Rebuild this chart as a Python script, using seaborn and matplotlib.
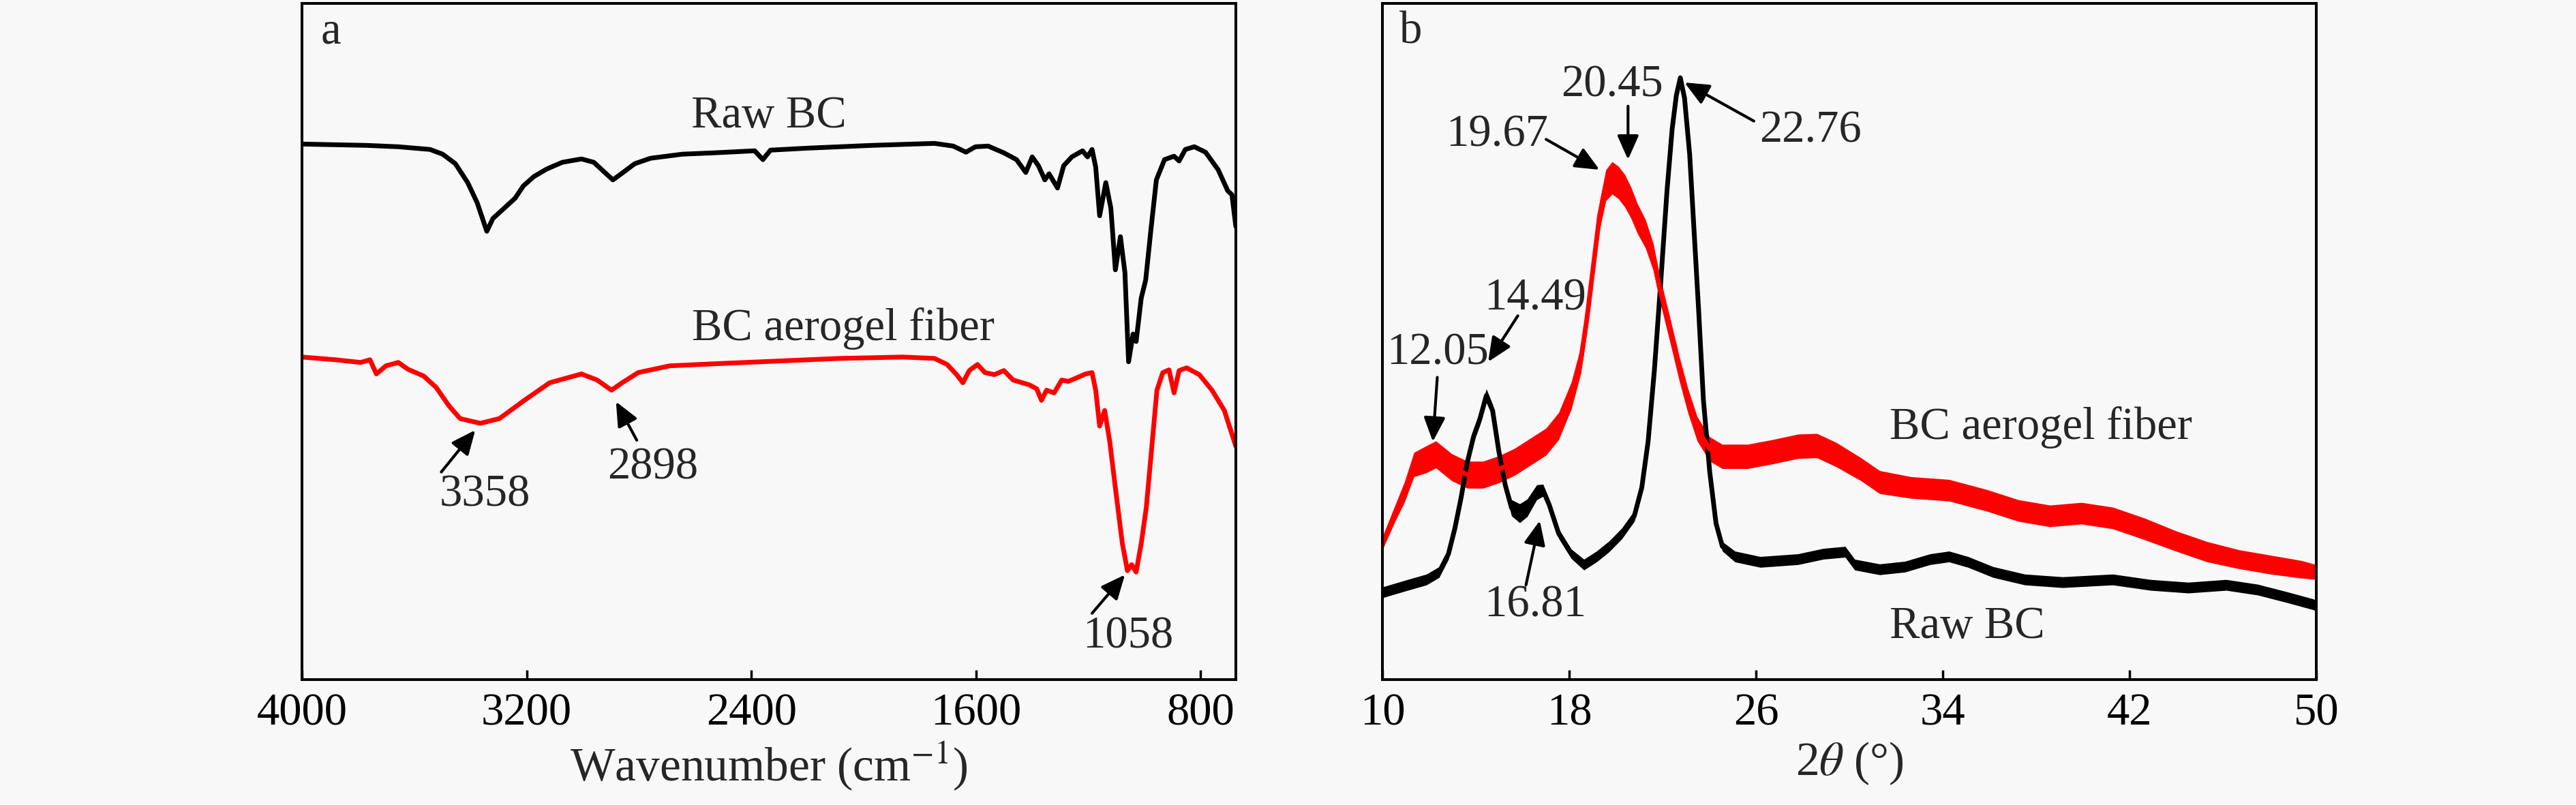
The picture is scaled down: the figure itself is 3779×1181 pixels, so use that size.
import matplotlib
matplotlib.use("Agg")
import matplotlib.pyplot as plt
import seaborn as sns
import pandas as pd
import numpy as np

# ---------------- data ----------------
# Panel a: FTIR
ftir_raw_wn = [4000, 3769, 3657, 3544, 3499, 3454, 3410, 3376, 3342, 3320, 3275, 3241, 3212, 3174,
               3129, 3073, 3005, 2961, 2927, 2893, 2860, 2815, 2759, 2646, 2534, 2388, 2359, 2332,
               2197, 1973, 1748, 1681, 1636, 1602, 1557, 1501, 1456, 1423, 1400, 1378, 1355, 1340,
               1310, 1288, 1259, 1221, 1203, 1187, 1174, 1160, 1138, 1120, 1104, 1086, 1070, 1057,
               1041, 1030, 1012, 996, 978, 958, 929, 895, 877, 855, 823, 783, 738, 704, 689, 675]
ftir_raw_t = [79.2, 79.0, 78.8, 78.4, 77.7, 76.3, 73.5, 70.5, 66.3, 68.2, 69.9, 71.2, 73.0, 74.4,
              75.5, 76.5, 77.0, 76.5, 75.2, 73.9, 74.9, 76.3, 77.1, 77.7, 77.9, 78.2, 76.9, 78.3,
              78.6, 79.0, 79.3, 78.9, 78.0, 78.8, 78.9, 77.9, 76.9, 75.0, 77.3, 76.0, 73.9, 74.8,
              72.7, 76.0, 77.3, 78.2, 77.3, 78.4, 75.8, 68.6, 73.5, 69.7, 60.6, 65.5, 60.2, 47.0,
              51.1, 50.0, 56.4, 59.1, 66.3, 73.9, 76.9, 77.4, 76.7, 78.4, 78.8, 78.0, 75.4, 72.3, 71.7, 67.0]

ftir_aero_wn = [4000, 3881, 3791, 3758, 3735, 3701, 3657, 3623, 3567, 3522, 3477, 3437, 3365, 3297,
                3208, 3118, 3005, 2949, 2898, 2860, 2803, 2691, 2534, 2310, 2085, 1860, 1748, 1703,
                1669, 1647, 1624, 1595, 1568, 1535, 1501, 1468, 1411, 1384, 1367, 1349, 1322, 1295,
                1272, 1243, 1210, 1187, 1174, 1160, 1142, 1124, 1102, 1079, 1061, 1046, 1030, 1012,
                994, 974, 956, 935, 913, 895, 877, 850, 805, 760, 716, 675]
ftir_aero_t = [47.7, 47.3, 46.9, 47.3, 45.2, 46.4, 46.9, 45.9, 44.9, 43.2, 40.5, 38.6, 37.9, 38.6,
               41.3, 43.9, 45.2, 44.3, 42.8, 43.9, 45.4, 46.4, 46.7, 47.1, 47.5, 47.7, 47.5, 46.6,
               45.1, 43.9, 45.7, 46.6, 45.4, 45.1, 45.7, 44.3, 43.6, 43.0, 41.3, 42.8, 42.4, 44.3,
               44.1, 44.6, 45.2, 45.4, 42.8, 37.5, 39.8, 35.2, 27.7, 20.1, 16.1, 17.0, 15.9, 20.1,
               25.4, 34.5, 42.8, 45.4, 45.8, 42.4, 45.7, 46.1, 45.1, 42.8, 39.8, 34.5]

ftir_ticks = [4000, 3200, 2400, 1600, 800]

# Panel b: XRD (center line and half-width of the noisy band)
xrd_aero_2t = [10.0, 10.54, 10.94, 11.35, 11.89, 12.29, 12.97, 13.64, 14.31, 14.99, 15.66, 16.34,
               17.01, 17.55, 18.09, 18.5, 18.76, 19.03, 19.3, 19.57, 19.84, 20.11, 20.38, 20.65,
               20.92, 21.27, 21.6, 21.87, 22.14, 22.41, 22.73, 23.08, 23.48, 24.02, 24.56, 25.64,
               26.72, 27.8, 28.61, 29.42, 30.5, 31.3, 32.65, 34.27, 35.89, 37.24, 38.59, 39.94,
               41.28, 42.63, 43.98, 45.33, 46.68, 48.03, 49.37, 50.0]
xrd_aero_i = [20.1, 24.6, 27.7, 31.8, 32.6, 33.3, 31.4, 30.3, 30.3, 31.1, 32.2, 33.7,
              35.2, 37.5, 42.0, 47.3, 53.4, 61.0, 68.6, 73.1, 74.2, 73.5, 72.3, 70.5,
              68.2, 65.9, 62.5, 58.0, 54.2, 50.4, 45.8, 41.3, 37.1, 34.1, 33.0, 33.0,
              33.7, 34.5, 34.6, 33.3, 31.1, 29.2, 28.4, 28.0, 26.5, 25.0, 24.2, 24.6,
              23.9, 22.3, 20.5, 18.9, 17.8, 17.0, 16.3, 15.9]
xrd_aero_spread = [0.9, 1.2, 1.5, 1.8, 2.0, 2.0, 2.0, 2.0, 2.0, 2.0, 2.0, 2.0,
                   2.0, 2.0, 2.0, 2.0, 2.0, 2.0, 2.1, 2.3, 2.4, 2.4, 2.4, 2.3,
                   2.2, 2.1, 2.0, 1.9, 1.8, 1.8, 1.8, 1.8, 1.8, 1.8, 1.8, 1.8,
                   1.8, 1.8, 1.8, 1.8, 1.7, 1.7, 1.6, 1.6, 1.6, 1.6, 1.6, 1.6,
                   1.6, 1.6, 1.5, 1.5, 1.4, 1.4, 1.3, 1.1]

xrd_raw_2t = [10.0, 11.08, 11.89, 12.43, 12.83, 13.1, 13.37, 13.64, 13.91, 14.18, 14.45, 14.72,
              14.99, 15.26, 15.53, 15.88, 16.2, 16.61, 16.88, 17.15, 17.55, 18.09, 18.63, 19.17,
              19.71, 20.25, 20.79, 21.11, 21.38, 21.65, 21.92, 22.19, 22.41, 22.59, 22.76, 22.94,
              23.16, 23.35, 23.54, 23.75, 24.02, 24.29, 24.56, 25.1, 26.18, 27.8, 28.88, 29.82,
              30.23, 31.3, 32.38, 33.46, 34.27, 35.08, 36.16, 37.51, 39.13, 41.28, 42.9, 44.52,
              46.14, 47.49, 48.84, 50.0]
xrd_raw_i = [12.9, 14.0, 14.8, 15.9, 18.6, 22.3, 26.9, 32.2, 36.0, 38.6, 42.0, 39.8,
             33.7, 28.8, 25.4, 24.6, 25.4, 27.7, 28.0, 25.8, 21.6, 18.6, 17.0, 18.2,
             19.7, 21.6, 24.2, 28.4, 35.2, 45.8, 58.7, 72.3, 81.4, 86.4, 89.0, 86.0,
             77.7, 66.3, 54.9, 41.3, 30.7, 23.1, 19.7, 18.2, 17.4, 17.8, 18.6, 18.9,
             17.0, 16.3, 16.7, 17.8, 18.2, 17.4, 15.9, 14.8, 14.4, 14.8, 14.0, 13.6,
             14.0, 13.3, 12.1, 11.0]
xrd_raw_spread = [0.8, 0.8, 0.8, 0.8, 0.8, 0.8, 0.8, 0.8, 0.8, 0.9, 1.0, 0.9,
                  0.8, 0.8, 1.2, 1.4, 1.3, 1.1, 0.9, 0.8, 0.7, 0.7, 0.8, 0.8,
                  0.8, 0.8, 0.8, 0.7, 0.5, 0.4, 0.3, 0.3, 0.3, 0.3, 0.3, 0.3,
                  0.3, 0.3, 0.3, 0.3, 0.4, 0.5, 0.7, 0.8, 0.8, 0.8, 0.8, 0.8,
                  0.8, 0.8, 0.8, 0.8, 0.8, 0.8, 0.8, 0.8, 0.8, 0.8, 0.8, 0.8,
                  0.8, 0.8, 0.8, 0.8]

xrd_ticks = [10, 18, 26, 34, 42, 50]

# ---------------- style ----------------
sns.set_theme(style="white")
plt.rcParams["font.family"] = ["Liberation Serif", "DejaVu Serif"]
plt.rcParams["mathtext.fontset"] = "stix"
plt.rcParams["axes.unicode_minus"] = True

BG = "#f8f8f8"
FS = 48
LW_SPINE = 2.9
LW_CURVE = 5.0

fig = plt.figure(figsize=(37.8, 11.81), dpi=100, facecolor=BG)
ax_a = fig.add_axes([443 / 3780, 1 - 997 / 1181, 1370 / 3780, 992 / 1181])
ax_b = fig.add_axes([2028 / 3780, 1 - 997 / 1181, 1370 / 3780, 992 / 1181])

for ax in (ax_a, ax_b):
    ax.set_facecolor(BG)
    for s in ax.spines.values():
        s.set_visible(True)
        s.set_linewidth(LW_SPINE)
        s.set_color("black")
    ax.tick_params(axis="x", direction="in", length=10, width=2.5, labelsize=FS,
                   pad=14, bottom=True, top=False, colors="black")
    ax.tick_params(axis="y", left=False, right=False, labelleft=False)
    ax.set_ylim(0, 100)

arrow_kw = dict(arrowstyle="-|>,head_length=0.9,head_width=0.4", color="black",
                lw=3.0, mutation_scale=24, shrinkA=0, shrinkB=0)

# ---------------- panel a ----------------
df_raw = pd.DataFrame({"wn": ftir_raw_wn, "t": ftir_raw_t})
df_aero = pd.DataFrame({"wn": ftir_aero_wn, "t": ftir_aero_t})
sns.lineplot(data=df_raw, x="wn", y="t", ax=ax_a, color="black", linewidth=LW_CURVE,
             sort=False, estimator=None)
sns.lineplot(data=df_aero, x="wn", y="t", ax=ax_a, color="#ff0000", linewidth=LW_CURVE,
             sort=False, estimator=None)
for ln in ax_a.lines:
    ln.set_linewidth(LW_CURVE)
    ln.set_solid_joinstyle("round")
ax_a.set_xlim(4000, 675)
ax_a.set_xticks(ftir_ticks)
ax_a.set_xticklabels([str(v) for v in ftir_ticks])
ax_a.set_xlabel("Wavenumber (cm$^{-1}$)", fontsize=FS + 2, labelpad=6)
ax_a.set_ylabel("Transmittance", fontsize=FS + 2, labelpad=26)

ax_a.text(2339, 83.3, "Raw BC", fontsize=FS, ha="center", va="center")
ax_a.text(2074, 51.9, "BC aerogel fiber", fontsize=FS, ha="center", va="center")
ax_a.text(3349, 27.3, "3358", fontsize=FS, ha="center", va="center")
ax_a.annotate("", xy=(3383, 36.9), xytext=(3504, 30.7), arrowprops=arrow_kw)
ax_a.text(2752, 31.4, "2898", fontsize=FS, ha="center", va="center")
ax_a.annotate("", xy=(2882, 41.1), xytext=(2808, 35.4), arrowprops=arrow_kw)
ax_a.text(1059, 6.4, "1058", fontsize=FS, ha="center", va="center")
ax_a.annotate("", xy=(1070, 15.5), xytext=(1187, 9.8), arrowprops=arrow_kw)
ax_a.text(0.02, 0.958, "a", transform=ax_a.transAxes, fontsize=FS,
          ha="left", va="center")

# ---------------- panel b ----------------
df_bx_raw = pd.DataFrame({"tt": xrd_raw_2t, "i": xrd_raw_i})
df_bx_aero = pd.DataFrame({"tt": xrd_aero_2t, "i": xrd_aero_i})
raw_i = np.array(xrd_raw_i); raw_s = np.array(xrd_raw_spread)
aero_i = np.array(xrd_aero_i); aero_s = np.array(xrd_aero_spread)
ax_b.fill_between(xrd_raw_2t, raw_i - raw_s, raw_i + raw_s, color="black", lw=0)
sns.lineplot(data=df_bx_raw, x="tt", y="i", ax=ax_b, color="black", linewidth=LW_CURVE,
             sort=False, estimator=None)
ax_b.fill_between(xrd_aero_2t, aero_i - aero_s, aero_i + aero_s, color="#ff0000", lw=0)
sns.lineplot(data=df_bx_aero, x="tt", y="i", ax=ax_b, color="#ff0000", linewidth=LW_CURVE,
             sort=False, estimator=None)
for ln in ax_b.lines:
    ln.set_linewidth(LW_CURVE)
    ln.set_solid_joinstyle("round")
ax_b.set_xlim(10, 50)
ax_b.set_xticks(xrd_ticks)
ax_b.set_xticklabels([str(v) for v in xrd_ticks])
ax_b.set_xlabel("2$\\theta$ (°)", fontsize=FS + 2, labelpad=6)
ax_b.set_ylabel("Intensity", fontsize=FS + 2, labelpad=26)

ax_b.text(28.34, 81.1, "22.76", fontsize=FS, ha="center", va="center")
ax_b.annotate("", xy=(22.94, 88.3), xytext=(25.91, 82.6), arrowprops=arrow_kw)
ax_b.text(19.84, 87.9, "20.45", fontsize=FS, ha="center", va="center")
ax_b.annotate("", xy=(20.52, 76.9), xytext=(20.52, 84.8), arrowprops=arrow_kw)
ax_b.text(14.91, 80.5, "19.67", fontsize=FS, ha="center", va="center")
ax_b.annotate("", xy=(19.3, 75.4), xytext=(17.01, 79.9), arrowprops=arrow_kw)
ax_b.text(16.53, 56.4, "14.49", fontsize=FS, ha="center", va="center")
ax_b.annotate("", xy=(14.53, 47.0), xytext=(15.8, 53.8), arrowprops=arrow_kw)
ax_b.text(12.37, 48.3, "12.05", fontsize=FS, ha="center", va="center")
ax_b.annotate("", xy=(12.16, 35.2), xytext=(12.35, 44.7), arrowprops=arrow_kw)
ax_b.text(16.53, 11.0, "16.81", fontsize=FS, ha="center", va="center")
ax_b.annotate("", xy=(16.74, 23.5), xytext=(16.15, 14.0), arrowprops=arrow_kw)
ax_b.text(31.71, 37.3, "BC aerogel fiber", fontsize=FS, ha="left", va="center")
ax_b.text(31.71, 7.8, "Raw BC", fontsize=FS, ha="left", va="center")
ax_b.text(0.018, 0.958, "b", transform=ax_b.transAxes, fontsize=FS,
          ha="left", va="center")

fig.savefig("out.png", dpi=100, facecolor=BG)
